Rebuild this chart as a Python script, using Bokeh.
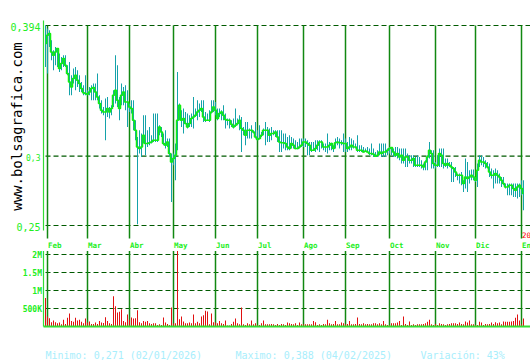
import math
from bokeh.plotting import figure
from bokeh.models import Range1d
from bokeh.core.properties import value
from bokeh.embed import file_html
from bokeh.resources import INLINE

# ---------------- data ----------------
close = [
    0.3810, 0.3870, 0.3882, 0.3750, 0.3726, 0.3750, 0.3774, 0.3630, 0.3666, 0.3702,
    0.3654, 0.3594, 0.3534, 0.3498, 0.3558, 0.3582, 0.3546, 0.3522, 0.3486, 0.3455,
    0.3450, 0.3445, 0.3462, 0.3486, 0.3493, 0.3462, 0.3426, 0.3378, 0.3330, 0.3318,
    0.3318, 0.3342, 0.3318, 0.3342, 0.3438, 0.3474, 0.3402, 0.3342, 0.3438, 0.3462,
    0.3390, 0.3390, 0.3354, 0.3342, 0.3258, 0.3186, 0.3066, 0.3054, 0.3066, 0.3150,
    0.3090, 0.3090, 0.3095, 0.3102, 0.3114, 0.3114, 0.3114, 0.3210, 0.3174, 0.3090,
    0.3078, 0.3102, 0.3018, 0.2958, 0.2982, 0.3006, 0.3258, 0.3366, 0.3258, 0.3270,
    0.3234, 0.3210, 0.3234, 0.3270, 0.3282, 0.3294, 0.3318, 0.3330, 0.3342, 0.3282,
    0.3258, 0.3258, 0.3258, 0.3318, 0.3354, 0.3330, 0.3270, 0.3306, 0.3318, 0.3294,
    0.3263, 0.3258, 0.3258, 0.3229, 0.3210, 0.3222, 0.3234, 0.3258, 0.3198, 0.3186,
    0.3150, 0.3186, 0.3186, 0.3186, 0.3174, 0.3138, 0.3119, 0.3126, 0.3150, 0.3186,
    0.3186, 0.3186, 0.3150, 0.3162, 0.3162, 0.3174, 0.3138, 0.3102, 0.3095, 0.3095,
    0.3090, 0.3066, 0.3054, 0.3090, 0.3078, 0.3054, 0.3054, 0.3066, 0.3078, 0.3102,
    0.3102, 0.3090, 0.3078, 0.3042, 0.3042, 0.3054, 0.3078, 0.3102, 0.3102, 0.3066,
    0.3066, 0.3066, 0.3078, 0.3090, 0.3054, 0.3095, 0.3102, 0.3095, 0.3095, 0.3090,
    0.3090, 0.3054, 0.3066, 0.3078, 0.3066, 0.3066, 0.3042, 0.3042, 0.3042, 0.3030,
    0.3037, 0.3030, 0.3018, 0.3018, 0.3013, 0.2999, 0.3006, 0.3030, 0.3018, 0.3030,
    0.3030, 0.3042, 0.3054, 0.3061, 0.3030, 0.3006, 0.3018, 0.2994, 0.3006, 0.2970,
    0.2994, 0.2994, 0.2970, 0.2970, 0.2982, 0.2934, 0.2934, 0.2934, 0.2934, 0.2922,
    0.2958, 0.2994, 0.3042, 0.3018, 0.2946, 0.2934, 0.2934, 0.3018, 0.3006, 0.2946,
    0.2934, 0.2946, 0.2934, 0.2922, 0.2910, 0.2886, 0.2862, 0.2862, 0.2862, 0.2802,
    0.2850, 0.2838, 0.2850, 0.2862, 0.2850, 0.2826, 0.2898, 0.2970, 0.2958, 0.2958,
    0.2946, 0.2922, 0.2886, 0.2862, 0.2862, 0.2874, 0.2862, 0.2850, 0.2826, 0.2802,
    0.2778, 0.2778, 0.2790, 0.2790, 0.2766, 0.2754, 0.2778, 0.2790, 0.2766, 0.2730,
]

high = [
    0.3942, 0.3918, 0.3906, 0.3834, 0.3762, 0.3786, 0.3774, 0.3738, 0.3714, 0.3726,
    0.3726, 0.3654, 0.3678, 0.3582, 0.3630, 0.3642, 0.3618, 0.3582, 0.3534, 0.3510,
    0.3582, 0.3474, 0.3498, 0.3510, 0.3522, 0.3522, 0.3594, 0.3438, 0.3402, 0.3354,
    0.3414, 0.3426, 0.3354, 0.3366, 0.3474, 0.3726, 0.3654, 0.3426, 0.3522, 0.3498,
    0.3510, 0.3474, 0.3378, 0.3402, 0.3402, 0.3258, 0.3138, 0.3186, 0.3162, 0.3294,
    0.3294, 0.3186, 0.3210, 0.3150, 0.3306, 0.3306, 0.3306, 0.3222, 0.3210, 0.3162,
    0.3186, 0.3126, 0.3126, 0.3018, 0.3018, 0.3090, 0.3606, 0.3378, 0.3330, 0.3342,
    0.3318, 0.3306, 0.3294, 0.3306, 0.3426, 0.3342, 0.3402, 0.3378, 0.3402, 0.3402,
    0.3318, 0.3306, 0.3330, 0.3402, 0.3402, 0.3390, 0.3342, 0.3342, 0.3330, 0.3366,
    0.3306, 0.3270, 0.3270, 0.3258, 0.3270, 0.3342, 0.3270, 0.3294, 0.3282, 0.3210,
    0.3246, 0.3246, 0.3198, 0.3222, 0.3186, 0.3246, 0.3186, 0.3222, 0.3174, 0.3198,
    0.3246, 0.3210, 0.3198, 0.3210, 0.3186, 0.3186, 0.3186, 0.3186, 0.3186, 0.3162,
    0.3162, 0.3138, 0.3150, 0.3138, 0.3126, 0.3114, 0.3102, 0.3126, 0.3126, 0.3126,
    0.3126, 0.3114, 0.3102, 0.3102, 0.3102, 0.3114, 0.3114, 0.3114, 0.3114, 0.3090,
    0.3090, 0.3162, 0.3102, 0.3095, 0.3078, 0.3126, 0.3138, 0.3126, 0.3114, 0.3162,
    0.3126, 0.3102, 0.3138, 0.3126, 0.3114, 0.3090, 0.3150, 0.3078, 0.3078, 0.3066,
    0.3054, 0.3066, 0.3054, 0.3090, 0.3054, 0.3030, 0.3042, 0.3090, 0.3090, 0.3090,
    0.3090, 0.3054, 0.3066, 0.3066, 0.3054, 0.3066, 0.3066, 0.3054, 0.3054, 0.3054,
    0.3054, 0.3018, 0.3006, 0.3006, 0.3006, 0.2994, 0.3006, 0.2994, 0.2970, 0.2946,
    0.2970, 0.3006, 0.3102, 0.3042, 0.3042, 0.2958, 0.3006, 0.3054, 0.3054, 0.3054,
    0.2982, 0.2982, 0.2958, 0.2958, 0.2922, 0.2922, 0.2874, 0.2874, 0.2886, 0.2826,
    0.2982, 0.2958, 0.2898, 0.2903, 0.2903, 0.2850, 0.2946, 0.3006, 0.3006, 0.2994,
    0.2970, 0.2958, 0.2946, 0.2910, 0.2898, 0.2910, 0.2898, 0.2874, 0.2850, 0.2850,
    0.2802, 0.2802, 0.2802, 0.2802, 0.2802, 0.2802, 0.2802, 0.2802, 0.2826, 0.2826,
]

low = [
    0.3642, 0.3594, 0.3786, 0.3690, 0.3618, 0.3654, 0.3642, 0.3606, 0.3618, 0.3642,
    0.3642, 0.3582, 0.3438, 0.3438, 0.3522, 0.3474, 0.3498, 0.3462, 0.3462, 0.3438,
    0.3438, 0.3438, 0.3438, 0.3402, 0.3402, 0.3402, 0.3402, 0.3342, 0.3306, 0.3294,
    0.3114, 0.3282, 0.3270, 0.3294, 0.3354, 0.3378, 0.3354, 0.3258, 0.3366, 0.3366,
    0.3330, 0.3210, 0.3318, 0.3306, 0.3186, 0.3114, 0.2509, 0.3018, 0.2994, 0.3090,
    0.3006, 0.3066, 0.3078, 0.3090, 0.3102, 0.3102, 0.3102, 0.3150, 0.3138, 0.3078,
    0.3054, 0.3066, 0.2994, 0.2670, 0.2934, 0.2826, 0.3042, 0.3258, 0.3210, 0.3162,
    0.3229, 0.3198, 0.3210, 0.3210, 0.3198, 0.3282, 0.3258, 0.3282, 0.3318, 0.3246,
    0.3246, 0.3253, 0.3246, 0.3306, 0.3318, 0.3294, 0.3258, 0.3282, 0.3258, 0.3258,
    0.3198, 0.3222, 0.3198, 0.3210, 0.3198, 0.3210, 0.3222, 0.3186, 0.3030, 0.3150,
    0.3078, 0.3126, 0.3126, 0.3126, 0.3162, 0.3126, 0.3114, 0.3119, 0.3138, 0.3150,
    0.3078, 0.3102, 0.3102, 0.3114, 0.3150, 0.3138, 0.3102, 0.3030, 0.3030, 0.3054,
    0.3042, 0.3042, 0.3042, 0.3054, 0.3054, 0.3049, 0.3049, 0.3054, 0.3066, 0.3066,
    0.3066, 0.3006, 0.3006, 0.3030, 0.3037, 0.3030, 0.3042, 0.3030, 0.3054, 0.3042,
    0.3030, 0.3018, 0.3042, 0.3042, 0.3030, 0.3054, 0.3078, 0.3054, 0.3078, 0.3030,
    0.3030, 0.3030, 0.3042, 0.3042, 0.3054, 0.3054, 0.3030, 0.3030, 0.3030, 0.3025,
    0.3030, 0.3025, 0.3006, 0.3006, 0.2994, 0.2994, 0.2994, 0.3006, 0.2994, 0.2994,
    0.2994, 0.3006, 0.3018, 0.3006, 0.2994, 0.2994, 0.2982, 0.2970, 0.2946, 0.2946,
    0.2922, 0.2922, 0.2946, 0.2946, 0.2922, 0.2922, 0.2922, 0.2922, 0.2910, 0.2898,
    0.2898, 0.2898, 0.2982, 0.2910, 0.2910, 0.2910, 0.2922, 0.2922, 0.2922, 0.2910,
    0.2922, 0.2910, 0.2922, 0.2814, 0.2814, 0.2850, 0.2826, 0.2802, 0.2790, 0.2742,
    0.2766, 0.2742, 0.2802, 0.2826, 0.2826, 0.2814, 0.2778, 0.2922, 0.2934, 0.2922,
    0.2910, 0.2910, 0.2850, 0.2838, 0.2766, 0.2802, 0.2802, 0.2802, 0.2778, 0.2790,
    0.2766, 0.2718, 0.2718, 0.2718, 0.2706, 0.2706, 0.2694, 0.2706, 0.2718, 0.2610,
]

volume_millions = [
    0.79, 0.28, 0.23, 0.12, 0.17, 0.12, 0.09, 0.11, 0.06, 0.19,
    0.07, 0.24, 0.36, 0.15, 0.13, 0.24, 0.17, 0.19, 0.13, 0.09,
    0.22, 0.11, 0.14, 0.07, 0.07, 0.11, 0.07, 0.15, 0.11, 0.10,
    0.26, 0.15, 0.09, 0.07, 0.84, 0.56, 0.39, 0.41, 0.48, 0.15,
    0.12, 0.33, 0.19, 0.25, 0.22, 0.23, 0.45, 0.12, 0.09, 0.15,
    0.13, 0.15, 0.09, 0.07, 0.09, 0.09, 0.04, 0.06, 0.04, 0.25,
    0.11, 0.07, 0.04, 0.53, 0.08, 0.09, 2.10, 0.20, 0.28, 0.14,
    0.09, 0.09, 0.11, 0.09, 0.33, 0.09, 0.13, 0.09, 0.28, 0.31,
    0.44, 0.42, 0.06, 0.36, 0.12, 0.11, 0.09, 0.15, 0.09, 0.07,
    0.17, 0.03, 0.03, 0.07, 0.13, 0.22, 0.09, 0.06, 0.53, 0.06,
    0.04, 0.09, 0.06, 0.17, 0.06, 0.09, 0.04, 0.04, 0.09, 0.17,
    0.06, 0.06, 0.06, 0.07, 0.06, 0.04, 0.07, 0.04, 0.07, 0.06,
    0.04, 0.11, 0.09, 0.07, 0.06, 0.09, 0.04, 0.11, 0.06, 0.06,
    0.06, 0.06, 0.06, 0.06, 0.15, 0.12, 0.04, 0.06, 0.04, 0.07,
    0.06, 0.19, 0.09, 0.06, 0.07, 0.15, 0.06, 0.06, 0.11, 0.09,
    0.06, 0.07, 0.15, 0.06, 0.06, 0.07, 0.25, 0.07, 0.06, 0.09,
    0.06, 0.07, 0.06, 0.06, 0.09, 0.09, 0.06, 0.09, 0.06, 0.15,
    0.06, 0.04, 0.04, 0.09, 0.09, 0.09, 0.11, 0.15, 0.04, 0.28,
    0.07, 0.04, 0.14, 0.04, 0.06, 0.04, 0.06, 0.06, 0.06, 0.07,
    0.09, 0.13, 0.19, 0.06, 0.04, 0.07, 0.04, 0.09, 0.07, 0.06,
    0.04, 0.06, 0.07, 0.09, 0.09, 0.09, 0.07, 0.11, 0.07, 0.06,
    0.14, 0.11, 0.17, 0.06, 0.06, 0.04, 0.04, 0.13, 0.11, 0.04,
    0.07, 0.06, 0.07, 0.11, 0.07, 0.12, 0.09, 0.11, 0.06, 0.14,
    0.13, 0.13, 0.13, 0.14, 0.15, 0.24, 0.33, 0.17, 0.06, 0.22,
]

month_labels = ["Feb", "Mar", "Abr", "May", "Jun", "Jul", "Ago", "Sep", "Oct", "Nov", "Dic", "En"]
month_starts = [1, 21, 42, 64, 85, 106, 129, 150, 172, 195, 215, 238]
year_label = "20"

price_ticks = [0.394, 0.3, 0.25]
price_tick_labels = ["0,394", "0,3", "0,25"]

vol_ticks = [500000, 1000000, 1500000, 2000000]
vol_tick_labels = ["500K", "1M", "1.5M", "2M"]

site_label = "www.bolsagrafica.com"
summary_labels = ["Minimo: 0,271 (02/01/2026)", "Maximo: 0,388 (04/02/2025)", "Variación: 43%"]

# ---------------- layout (page pixels; the figure sits at the page origin) ----------------
W, H = 530, 360
X0, DX = 45.0, 2.0            # page x of bar 0, pixels per bar
Y_PTOP, Y_PBOT = 25.0, 225.0  # page y of top / bottom price grid lines
Y_V0, PX_PER_M = 326.0, 36.0  # page y of zero volume, px per million
BAR_W = 1.0 / DX              # one pixel, in bar units

p_hi, p_lo = max(price_ticks), min(price_ticks)
k = (p_hi - p_lo) / (Y_PBOT - Y_PTOP)


def xd(X):
    return (X - X0) / DX


def yp(Y):
    return p_hi - (Y - Y_PTOP) * k


def yv(Y):
    return (Y_V0 - Y) * 1e6 / PX_PER_M


n = min(len(close), len(high), len(low), len(volume_millions))
idx = list(range(n))
volume = [v * 1e6 for v in volume_millions[:n]]

p = figure(width=W, height=H, output_backend="svg", toolbar_location=None,
           x_range=Range1d(xd(0), xd(W)),
           y_range=Range1d(yp(H), yp(0)),
           x_axis_location=None, y_axis_location=None,
           min_border=0, min_border_left=0, min_border_right=0,
           min_border_top=0, min_border_bottom=0)
p.extra_y_ranges = {"vol": Range1d(yv(H), yv(0))}
p.grid.visible = False
p.outline_line_color = None
p.background_fill_color = "white"
p.border_fill_color = "white"

MONO = value("DejaVu Sans Mono")
LIME = "#22ee22"
AXIS = "#33dd33"
MONTH = "#118811"
DASH = "#005a00"
TEAL = "#14a2aa"
CLOSE = "#11ee11"
RED = "#e01010"
CYAN = "#a8eefc"

# dashed grid lines
p.segment(x0=xd(45), x1=xd(530), y0=price_ticks, y1=price_ticks,
          line_color=DASH, line_width=1.2, line_dash="5 3")
p.segment(x0=xd(45), x1=xd(530), y0=vol_ticks, y1=vol_ticks,
          line_color=DASH, line_width=1.2, line_dash="5 3", y_range_name="vol")

# month lines
p.segment(x0=month_starts, x1=month_starts, y0=yp(25), y1=yp(238),
          line_color=MONTH, line_width=1.5)
p.segment(x0=month_starts, x1=month_starts, y0=yv(250.5), y1=0,
          line_color=MONTH, line_width=1.5, y_range_name="vol")

# axis lines
p.segment(x0=xd(43), x1=xd(43), y0=yp(20), y1=yp(230), line_color=AXIS, line_width=1.2)
p.segment(x0=xd(43), x1=xd(43), y0=yv(250.5), y1=0, line_color=AXIS,
          line_width=1.2, y_range_name="vol")

# price bars (high-low) and close line
p.vbar(x=idx, width=BAR_W, bottom=low[:n], top=high[:n], fill_color=TEAL, line_color=None)
p.step(idx, close[:n], mode="center", line_color=CLOSE, line_width=1.5)

# volume bars
p.vbar(x=idx, width=BAR_W, bottom=0, top=volume, fill_color=RED, line_color=None,
       y_range_name="vol")
p.segment(x0=xd(43), x1=xd(530), y0=0, y1=0, line_color=AXIS, line_width=1.8,
          y_range_name="vol")

# price tick labels
sizes = {"0,3": "8px"}
for t, lab in zip(price_ticks, price_tick_labels):
    p.text(x=[xd(40)], y=[t], text=[lab], text_align="right", text_baseline="middle",
           text_font=MONO, text_font_size=sizes.get(lab, "10px"), text_color=LIME,
           y_offset=1)

# volume tick labels
p.text(x=[xd(41.5)] * len(vol_ticks), y=vol_ticks, text=vol_tick_labels,
       text_align="right", text_baseline="middle", text_font=MONO,
       text_font_size="8px", text_font_style="bold", text_color=LIME,
       y_range_name="vol", y_offset=1)

# month labels
p.text(x=month_starts, y=[yp(240.5)] * len(month_starts), text=month_labels,
       text_align="left", text_baseline="top", text_font=MONO,
       text_font_size="7.5px", text_font_style="bold", text_color=LIME, x_offset=0.5)
p.text(x=[month_starts[-1]], y=[yp(231.5)], text=[year_label], text_align="left",
       text_baseline="top", text_font=MONO, text_font_size="7.5px",
       text_color="#ff0000", x_offset=0.5)

# vertical site label
p.text(x=[xd(16.5)], y=[yp(126)], text=[site_label], angle=math.pi / 2,
       text_align="center", text_baseline="alphabetic", text_font=MONO,
       text_font_size="14px", text_color="#000000")

# bottom summary
for X, lab in zip([45, 235, 420], summary_labels):
    p.text(x=[xd(X)], y=[yp(355)], text=[lab], text_align="left",
           text_baseline="alphabetic", text_font=MONO, text_font_size="10px",
           text_color=CYAN)

open("out.html", "w").write(file_html(p, INLINE))
